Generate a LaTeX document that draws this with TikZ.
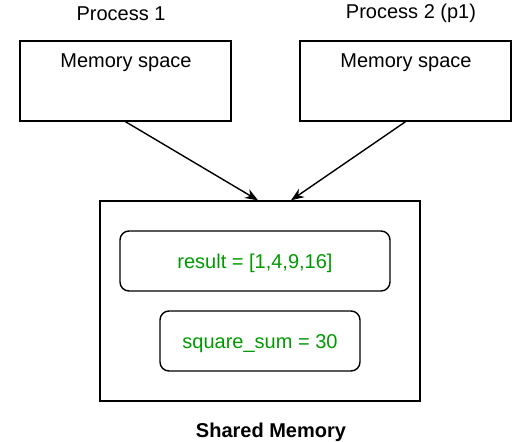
\documentclass[tikz,border=0pt]{standalone}
\usepackage{fontspec}
\setmainfont{Liberation Sans}
\usetikzlibrary{arrows.meta}
\definecolor{txtgreen}{HTML}{009900}
\begin{document}
\begin{tikzpicture}[x=1pt,y=-1pt,
  every node/.style={font=\fontsize{20}{24}\selectfont, inner sep=0pt},
  membox/.style={draw, line width=1.4pt, minimum width=211pt, minimum height=80pt},
  valbox/.style={draw, line width=1.4pt, rounded corners=9pt, text=txtgreen, text height=14pt, text depth=0pt},
  conn/.style={line width=1.4pt, -{Stealth[length=13pt,width=10pt]}}]
\useasboundingbox (0,0) rectangle (531,442);
\node (p1) at (121,13.5) {Process 1};
\node (p2) at (411,13.5) {Process 2 (p1)};
\node[membox] (m1) at (125.5,81) {};
\node[membox] (m2) at (405.5,81) {};
\node (m1t) at (126,63) {Memory space};
\node (m2t) at (406,63) {Memory space};
\node[draw, line width=1.4pt, minimum width=320pt, minimum height=200pt] (shm) at (260,301) {};
\node[valbox, minimum width=270pt, minimum height=60pt] (res) at (255,261) {result = [1,4,9,16]};
\node[valbox, minimum width=200pt, minimum height=60pt] (sq) at (260,341) {square\_sum = 30};
\node[font=\fontsize{20}{24}\selectfont\bfseries] (lbl) at (271,432.5) {Shared Memory};
\coordinate (t1) at ([xshift=-2pt]shm.north);
\coordinate (t2) at ([xshift=31pt]shm.north);
\draw[conn] (m1.south) -- (t1);
\draw[conn] (m2.south) -- (t2);
\end{tikzpicture}
\end{document}
